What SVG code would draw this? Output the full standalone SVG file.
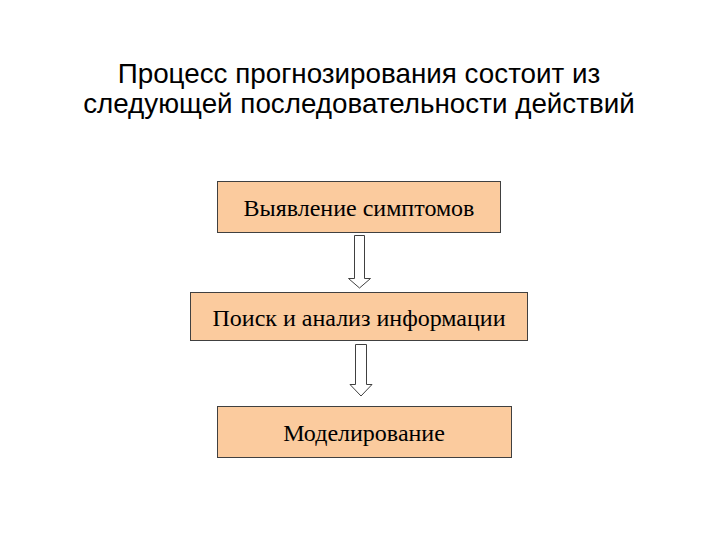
<svg xmlns="http://www.w3.org/2000/svg" width="720" height="540" viewBox="0 0 720 540">
<style>
.title{font-family:"Liberation Sans",Arial,sans-serif;font-size:27.8px;fill:#000;text-anchor:middle}
.box{fill:#FBCB9E;stroke:#404040;stroke-width:1}
.lbl{font-family:"Liberation Serif","Times New Roman",serif;font-size:24px;fill:#000;text-anchor:middle}
.arr{fill:#fff;stroke:#404040;stroke-width:1}
</style>
<rect width="720" height="540" fill="#fff"/>
<g id="title">
<text class="title" x="359" y="83">Процесс прогнозирования состоит из</text>
<text class="title" x="359" y="113">следующей последовательности действий</text>
</g>
<g id="n1"><rect class="box" x="217.5" y="181.5" width="283" height="51"/><text class="lbl" x="359" y="216">Выявление симптомов</text></g>
<g id="n2"><rect class="box" x="190.5" y="292.5" width="337" height="48"/><text class="lbl" x="359" y="326">Поиск и анализ информации</text></g>
<g id="n3"><rect class="box" x="217.5" y="406.5" width="294" height="51"/><text class="lbl" x="364" y="441">Моделирование</text></g>
<g id="connectors">
<path class="arr" d="M354.5,235.5 H364.5 V278.5 H370.5 L359.5,288 L348.5,278.5 H354.5 Z"/>
<path class="arr" d="M355.5,344.5 H366.5 V384.5 H372 L361,396 L350,384.5 H355.5 Z"/>
</g>
</svg>
